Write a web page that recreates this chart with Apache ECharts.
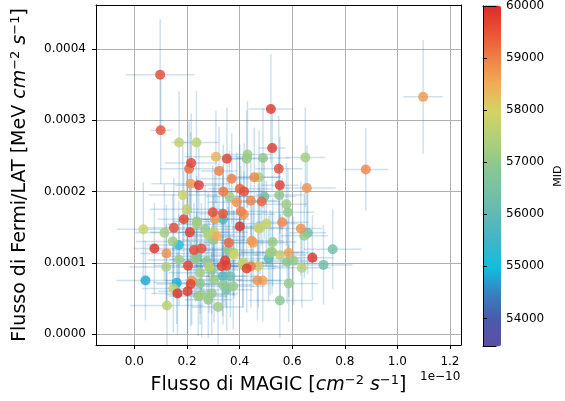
<!DOCTYPE html>
<html><head><meta charset="utf-8">
<script src="https://cdn.jsdelivr.net/npm/echarts@6/dist/echarts.min.js"></script>
<style>html,body{margin:0;padding:0;background:#fff}#c{width:565px;height:401px}</style>
</head><body><div id="c"></div>
<script>
// MAGIC flux in units of 1e-10 cm^-2 s^-1
const magicFlux = [
0.098,1.098,0.519,0.100,0.170,0.236,0.524,0.430,0.489,0.650,
0.310,0.352,0.427,0.216,0.208,0.549,0.322,0.880,0.370,0.456,
0.474,0.214,0.245,0.553,0.656,0.184,0.338,0.401,0.417,0.361,
0.389,0.443,0.484,0.494,0.551,0.578,0.584,0.199,0.298,0.337,
0.405,0.416,0.306,0.337,0.188,0.238,0.150,0.211,0.401,0.034,
0.114,0.477,0.502,0.562,0.633,0.659,0.646,0.302,0.314,0.359,
0.446,0.526,0.146,0.076,0.122,0.169,0.227,0.255,0.356,0.379,
0.524,0.754,0.587,0.677,0.719,0.510,0.581,0.605,0.637,0.345,
0.332,0.350,0.285,0.204,0.232,0.170,0.121,0.427,0.443,0.412,
0.042,0.161,0.214,0.148,0.164,0.202,0.218,0.250,0.303,0.336,
0.365,0.376,0.337,0.294,0.256,0.468,0.488,0.587,0.553,0.124,
0.318,0.237,0.269,0.281,0.237,0.275,0.250,0.294,0.243,0.281,
0.351,0.300,0.516,0.554,0.452,0.414,0.471,0.376,0.471
];
// Fermi/LAT flux in MeV cm^-2 s^-1
const fermiFlux = [
3.64e-4,3.33e-4,3.16e-4,2.86e-4,2.69e-4,2.69e-4,2.61e-4,2.52e-4,2.47e-4,2.48e-4,
2.49e-4,2.46e-4,2.46e-4,2.40e-4,2.32e-4,2.32e-4,2.29e-4,2.31e-4,2.18e-4,2.20e-4,
2.20e-4,2.11e-4,2.09e-4,2.09e-4,2.05e-4,1.95e-4,2.00e-4,2.04e-4,2.00e-4,1.93e-4,
1.85e-4,1.87e-4,1.86e-4,1.93e-4,1.95e-4,1.82e-4,1.71e-4,1.75e-4,1.71e-4,1.69e-4,
1.72e-4,1.68e-4,1.61e-4,1.61e-4,1.61e-4,1.58e-4,1.49e-4,1.43e-4,1.51e-4,1.47e-4,
1.42e-4,1.48e-4,1.55e-4,1.57e-4,1.48e-4,1.42e-4,1.38e-4,1.43e-4,1.37e-4,1.28e-4,
1.31e-4,1.29e-4,1.30e-4,1.20e-4,1.13e-4,1.25e-4,1.18e-4,1.20e-4,1.18e-4,1.11e-4,
1.15e-4,1.19e-4,1.14e-4,1.07e-4,0.97e-4,1.06e-4,1.01e-4,1.03e-4,0.93e-4,1.03e-4,
0.95e-4,0.96e-4,0.94e-4,0.96e-4,1.05e-4,1.04e-4,0.94e-4,0.92e-4,0.95e-4,0.97e-4,
0.75e-4,0.72e-4,0.70e-4,0.64e-4,0.57e-4,0.60e-4,0.75e-4,0.71e-4,0.76e-4,0.81e-4,
0.81e-4,0.67e-4,0.69e-4,0.57e-4,0.55e-4,0.75e-4,0.75e-4,0.71e-4,0.47e-4,0.40e-4,
0.38e-4,1.54e-4,1.47e-4,1.39e-4,1.09e-4,1.02e-4,0.86e-4,0.90e-4,0.53e-4,0.48e-4,
0.62e-4,1.32e-4,1.14e-4,1.11e-4,1.28e-4,1.00e-4,0.95e-4,1.14e-4,1.49e-4
];
const mjd = [
59600,58700,59800,59500,57700,57600,59800,57200,57000,57300,
58400,59700,57000,59700,59200,59600,59000,58900,59000,58900,
57400,58700,59800,59700,58800,57800,59100,59300,59600,57200,
58800,58900,59300,56300,57000,57200,57000,57700,59600,59500,
59000,58800,58700,55500,59700,57000,59600,59800,59900,57800,
57300,57800,57800,58900,58800,56300,57100,57800,58500,59300,
58700,57100,57200,59900,58800,55200,59600,59600,57000,58000,
57000,56400,58600,59900,56300,55900,56800,57100,57500,59800,
59700,59600,57600,59700,57000,57200,57400,59800,59000,57700,
54800,54900,59700,57700,59900,59800,58700,57000,57200,55700,
56300,57100,57000,57100,57200,58800,58600,57100,56900,57600,
57200,57300,57100,57500,56400,57000,57300,56900,57100,57000,
56500,57000,57200,57700,58600,57700,58100,57300,57600
];
const magicErr = [
0.13,0.075,0.085,0.04,0.03,0.084,0.05,0.09,0.10,0.075,
0.12,0.06,0.08,0.10,0.11,0.09,0.07,0.085,0.12,0.10,
0.08,0.15,0.09,0.07,0.11,0.13,0.10,0.12,0.08,0.09,
0.11,0.10,0.07,0.12,0.09,0.08,0.10,0.14,0.11,0.09,
0.10,0.12,0.13,0.08,0.10,0.09,0.12,0.15,0.10,0.10,
0.11,0.09,0.12,0.10,0.08,0.07,0.09,0.13,0.11,0.10,
0.12,0.09,0.14,0.08,0.10,0.12,0.13,0.11,0.10,0.09,
0.12,0.11,0.10,0.08,0.11,0.12,0.10,0.09,0.11,0.13,
0.10,0.12,0.11,0.13,0.10,0.12,0.14,0.11,0.10,0.12,
0.11,0.09,0.13,0.12,0.10,0.11,0.10,0.12,0.11,0.09,
0.10,0.12,0.11,0.10,0.13,0.09,0.10,0.11,0.12,0.14,
0.10,0.11,0.12,0.10,0.13,0.11,0.12,0.10,0.11,0.09,
0.10,0.12,0.11,0.10,0.12,0.11,0.10,0.12,0.10
];
const fermiErr = [
0.78e-4,0.80e-4,0.77e-4,0.75e-4,0.72e-4,0.72e-4,0.60e-4,0.75e-4,0.70e-4,0.70e-4,
0.65e-4,0.72e-4,0.68e-4,0.70e-4,0.66e-4,0.74e-4,0.62e-4,0.58e-4,0.64e-4,0.70e-4,
0.66e-4,0.72e-4,0.65e-4,0.68e-4,0.60e-4,0.70e-4,0.66e-4,0.62e-4,0.68e-4,0.64e-4,
0.70e-4,0.66e-4,0.62e-4,0.60e-4,0.64e-4,0.58e-4,0.62e-4,0.70e-4,0.66e-4,0.68e-4,
0.64e-4,0.60e-4,0.66e-4,0.62e-4,0.68e-4,0.64e-4,0.70e-4,0.66e-4,0.62e-4,0.66e-4,
0.68e-4,0.64e-4,0.60e-4,0.62e-4,0.66e-4,0.58e-4,0.60e-4,0.64e-4,0.62e-4,0.66e-4,
0.60e-4,0.62e-4,0.66e-4,0.64e-4,0.68e-4,0.62e-4,0.66e-4,0.64e-4,0.60e-4,0.62e-4,
0.58e-4,0.56e-4,0.62e-4,0.60e-4,0.56e-4,0.60e-4,0.58e-4,0.62e-4,0.56e-4,0.64e-4,
0.62e-4,0.60e-4,0.64e-4,0.62e-4,0.60e-4,0.64e-4,0.60e-4,0.62e-4,0.58e-4,0.60e-4,
0.56e-4,0.58e-4,0.60e-4,0.62e-4,0.58e-4,0.60e-4,0.62e-4,0.58e-4,0.60e-4,0.56e-4,
0.58e-4,0.60e-4,0.56e-4,0.58e-4,0.60e-4,0.56e-4,0.58e-4,0.54e-4,0.52e-4,0.56e-4,
0.54e-4,0.64e-4,0.62e-4,0.60e-4,0.62e-4,0.60e-4,0.58e-4,0.62e-4,0.56e-4,0.54e-4,
0.58e-4,0.62e-4,0.60e-4,0.58e-4,0.62e-4,0.60e-4,0.58e-4,0.60e-4,0.62e-4
];
const xTicks = [0.0,0.2,0.4,0.6,0.8,1.0,1.2];
const yTicks = [0.0000,0.0001,0.0002,0.0003,0.0004];
const cbTicks = [54000,55000,56000,57000,58000,59000,60000];
const mjdMin = 53460, mjdMax = 60000;
const cmapColors = ['#5e4fa2','#4a5aab','#3a7fc0','#12bde0','#3fb5c8','#5fb9b4','#78c1a3',
                    '#90c88c','#b3d177','#d6d263','#f0ad58','#f07f45','#e95236','#dd2a2a'];

const FONT = 'DejaVu Sans';
const pts = magicFlux.map((x,i)=>[x, fermiFlux[i], mjd[i], magicErr[i], fermiErr[i]]);
pts.sort((a,b)=>a[2]-b[2]);

const xRange = {min:-0.146, max:1.242};
const yRange = {min:-0.0000155, max:0.000462};

const titleRich = {
  n:{fontSize:19,fontFamily:FONT,color:'#000'},
  i:{fontSize:19,fontFamily:FONT,fontStyle:'italic',color:'#000'},
  s:{fontSize:13,fontFamily:FONT,color:'#000',verticalAlign:'bottom',padding:[0,0,10,0]}
};

const chart = echarts.init(document.getElementById('c'), null, {renderer:'canvas'});
const frameAxis = {axisLine:{show:true,onZero:false,lineStyle:{color:'#000',width:1}},axisTick:{show:false},axisLabel:{show:false},splitLine:{show:false},z:5};
chart.setOption({
  animation:false,
  grid:[{left:96,right:104,top:5,bottom:56},{left:483,top:5.5,width:18,height:341}],
  xAxis:[
    {type:'value',gridIndex:0,min:xRange.min,max:xRange.max,
     axisLine:{show:true,onZero:false,lineStyle:{color:'#000',width:1}},
     axisTick:{show:true,customValues:xTicks,length:4,lineStyle:{color:'#000'}},
     axisLabel:{customValues:xTicks,formatter:v=>v.toFixed(1),color:'#000',fontSize:12,fontFamily:FONT,margin:11},
     splitLine:{show:true,lineStyle:{color:'#b0b0b0',width:1}},
     name:'{n|Flusso di MAGIC [}{i|cm}{s|−2}{n| }{i|s}{s|−1}{n|]}',
     nameLocation:'middle',nameGap:29,
     nameTextStyle:{color:'#000',fontFamily:FONT,fontSize:19,rich:titleRich}},
    Object.assign({type:'value',gridIndex:0,position:'top',min:xRange.min,max:xRange.max},frameAxis),
    Object.assign({type:'value',gridIndex:1,position:'bottom',min:0,max:1},frameAxis),
    Object.assign({type:'value',gridIndex:1,position:'top',min:0,max:1},frameAxis)
  ],
  yAxis:[
    {type:'value',gridIndex:0,min:yRange.min,max:yRange.max,
     axisLine:{show:true,onZero:false,lineStyle:{color:'#000',width:1}},
     axisTick:{show:true,customValues:yTicks,length:4,lineStyle:{color:'#000'}},
     axisLabel:{customValues:yTicks,formatter:v=>v.toFixed(4),color:'#000',fontSize:12,fontFamily:FONT,margin:10},
     splitLine:{show:true,lineStyle:{color:'#b0b0b0',width:1}},
     name:'{n|Flusso di Fermi/LAT [MeV }{i|cm}{s|−2}{n| }{i|s}{s|−1}{n|]}',
     nameLocation:'middle',nameGap:64,nameRotate:90,
     nameTextStyle:{color:'#000',fontFamily:FONT,fontSize:19,rich:titleRich}},
    Object.assign({type:'value',gridIndex:0,position:'right',min:yRange.min,max:yRange.max},frameAxis),
    Object.assign({type:'value',gridIndex:1,position:'left',min:mjdMin,max:mjdMax},frameAxis),
    {type:'value',gridIndex:1,position:'right',min:mjdMin,max:mjdMax,z:5,
     axisLine:{show:true,lineStyle:{color:'#000',width:1}},
     axisTick:{show:true,customValues:cbTicks,length:4,lineStyle:{color:'#000'}},
     axisLabel:{customValues:cbTicks,formatter:v=>String(v),color:'#000',fontSize:12,fontFamily:FONT,margin:10},
     splitLine:{show:false},
     name:'MID',nameLocation:'middle',nameGap:57,nameRotate:90,
     nameTextStyle:{color:'#000',fontFamily:FONT,fontSize:11}}
  ],
  visualMap:{type:'continuous',min:mjdMin,max:mjdMax,dimension:2,seriesIndex:1,
    left:483,top:5.5,itemWidth:18,itemHeight:341,padding:0,calculable:false,
    text:null,showLabel:false,hoverLink:false,
    inRange:{color:cmapColors}},
  graphic:[{type:'text',left:420,top:371,style:{text:'1e−10',fontSize:12,fontFamily:FONT,fill:'#000'}}],
  series:[
    {type:'custom',xAxisIndex:0,yAxisIndex:0,clip:true,z:1,silent:true,
     data:pts.map(p=>[p[0],p[1],p[3],p[4]]),
     encode:{x:0,y:1},
     renderItem:(params,api)=>{
       const x=api.value(0),y=api.value(1),xe=api.value(2),ye=api.value(3);
       const l=api.coord([x-xe,y]),r=api.coord([x+xe,y]);
       const t=api.coord([x,y+ye]),b=api.coord([x,y-ye]);
       const st={stroke:'rgba(31,119,180,0.22)',lineWidth:1.5};
       return {type:'group',children:[
         {type:'line',shape:{x1:l[0],y1:l[1],x2:r[0],y2:r[1]},style:st},
         {type:'line',shape:{x1:t[0],y1:t[1],x2:b[0],y2:b[1]},style:st}]};
     }},
    {type:'scatter',xAxisIndex:0,yAxisIndex:0,z:3,symbolSize:10,
     itemStyle:{opacity:0.82},
     data:pts.map(p=>[p[0],p[1],p[2]])}
  ]
});
</script></body></html>
